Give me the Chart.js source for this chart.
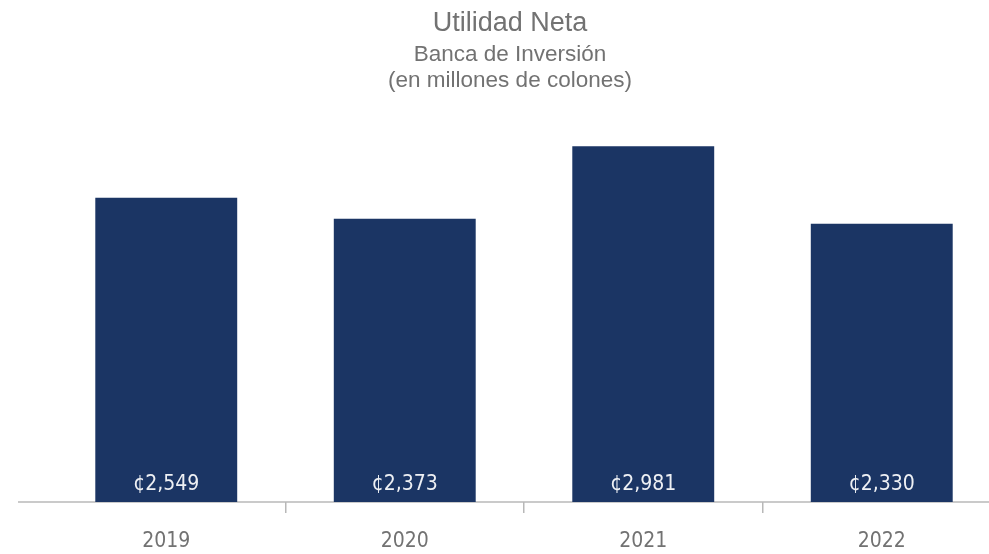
<!DOCTYPE html>
<html>
<head>
<meta charset="utf-8">
<script src="https://cdn.jsdelivr.net/npm/chart.js@4"></script>
<style>
html,body{margin:0;padding:0;overflow:hidden;background:#ffffff}
#wrap{width:1012px;height:554px}
</style>
</head>
<body>
<div id="wrap"><canvas id="c" width="1012" height="554"></canvas></div>
<script>
const categories = ['2019', '2020', '2021', '2022'];
const utilidadNeta = [2549, 2373, 2981, 2330];
const titleLines = ['Utilidad Neta', 'Banca de Inversión', '(en millones de colones)'];
const currencySymbol = '¢';

const textGray = '#727272';
const barColor = '#1b3564';
const axisGray = '#b8b8b8';

const titlePlugin = {
  id: 'customTitles',
  afterDraw(chart) {
    const ctx = chart.ctx;
    ctx.save();
    ctx.fillStyle = textGray;
    ctx.textAlign = 'center';
    ctx.textBaseline = 'alphabetic';
    ctx.font = '27px "Liberation Sans", Arial, sans-serif';
    ctx.fillText(titleLines[0], 510, 31);
    ctx.font = '22.5px "Liberation Sans", Arial, sans-serif';
    ctx.fillText(titleLines[1], 510, 61);
    ctx.fillText(titleLines[2], 510, 87);
    ctx.restore();
  }
};

const axisLinePlugin = {
  id: 'axisLine',
  beforeDatasetsDraw(chart) {
    const ctx = chart.ctx;
    const y = chart.scales.y.getPixelForValue(0);
    ctx.save();
    ctx.strokeStyle = axisGray;
    ctx.lineWidth = 1.5;
    ctx.beginPath();
    ctx.moveTo(18, y);
    ctx.lineTo(chart.width, y);
    ctx.stroke();
    ctx.restore();
  }
};

const valueLabelPlugin = {
  id: 'valueLabels',
  afterDatasetsDraw(chart) {
    const ctx = chart.ctx;
    const meta = chart.getDatasetMeta(0);
    ctx.save();
    ctx.fillStyle = '#eef0f4';
    ctx.textAlign = 'center';
    ctx.textBaseline = 'alphabetic';
    ctx.font = '21px "DejaVu Sans Condensed", sans-serif';
    meta.data.forEach((bar, i) => {
      const v = chart.data.datasets[0].data[i];
      ctx.fillText(currencySymbol + v.toLocaleString('en-US'), bar.x, bar.base - 12);
    });
    ctx.restore();
  }
};

new Chart(document.getElementById('c'), {
  type: 'bar',
  data: {
    labels: categories,
    datasets: [{
      data: utilidadNeta,
      backgroundColor: barColor,
      borderWidth: 0,
      barPercentage: 0.595,
      categoryPercentage: 1.0
    }]
  },
  options: {
    responsive: false,
    animation: false,
    devicePixelRatio: 1,
    layout: { padding: { left: 47, right: 11, top: 120, bottom: 0 } },
    plugins: {
      legend: { display: false },
      title: { display: false },
      tooltip: { enabled: false }
    },
    scales: {
      x: {
        afterFit(scale) { scale.height = 52; },
        border: { display: false },
        grid: {
          offset: true,
          drawOnChartArea: false,
          drawTicks: true,
          tickLength: 11,
          lineWidth: 1.5,
          color: (c) => (c.type === 'tick' && c.index > 0) ? axisGray : 'rgba(0,0,0,0)'
        },
        ticks: {
          color: textGray,
          padding: 16,
          font: { family: '"DejaVu Sans Condensed", sans-serif', size: 21 }
        }
      },
      y: {
        display: false,
        min: 0,
        max: 3200
      }
    }
  },
  plugins: [axisLinePlugin, valueLabelPlugin, titlePlugin]
});
</script>
</body>
</html>
